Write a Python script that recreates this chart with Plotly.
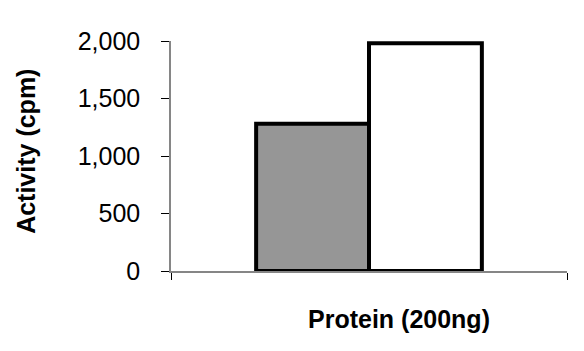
import plotly.graph_objects as go

categories = ["Protein (200ng)"]
series_a = [1280]
series_b = [1980]
y_ticks = [0, 500, 1000, 1500, 2000]
y_tick_labels = ["0", "500", "1,000", "1,500", "2,000"]

FONT = "Liberation Sans, Arial, sans-serif"

fig = go.Figure()
fig.add_trace(go.Bar(x=categories, y=series_a, marker=dict(color="#969696", line=dict(color="black", width=4))))
fig.add_trace(go.Bar(x=categories, y=series_b, marker=dict(color="white", line=dict(color="black", width=4))))

fig.update_layout(
    width=584, height=351,
    margin=dict(l=171, r=17, t=41, b=80),
    paper_bgcolor="white", plot_bgcolor="white",
    barmode="group", bargap=0.43, bargroupgap=0,
    showlegend=False,
    font=dict(family=FONT, size=25, color="black"),
)
fig.update_xaxes(
    showticklabels=False, tickson="boundaries", ticks="outside", ticklen=7,
    tickcolor="black", showline=True, linecolor="#868686", linewidth=1.5,
    showgrid=False, layer="below traces",
)
fig.update_yaxes(
    range=[0, 2000], tickvals=y_ticks, ticktext=y_tick_labels,
    ticks="outside", ticklen=8, tickcolor="black", tickwidth=1.2,
    showline=True, linecolor="#868686", linewidth=1.5, showgrid=False,
    zeroline=False, ticklabelstandoff=16, tickfont=dict(size=25),
    layer="below traces",
)
fig.add_annotation(text="<b>Activity (cpm)</b>", textangle=-90, xref="paper", yref="paper",
                   x=-0.365, y=0.52, showarrow=False, font=dict(size=25), xanchor="center", yanchor="middle")
fig.add_annotation(text="<b>Protein (200ng)</b>", xref="paper", yref="paper",
                   x=0.576, y=-0.21, showarrow=False, font=dict(size=25), xanchor="center", yanchor="middle")

fig.write_html("out.html")
